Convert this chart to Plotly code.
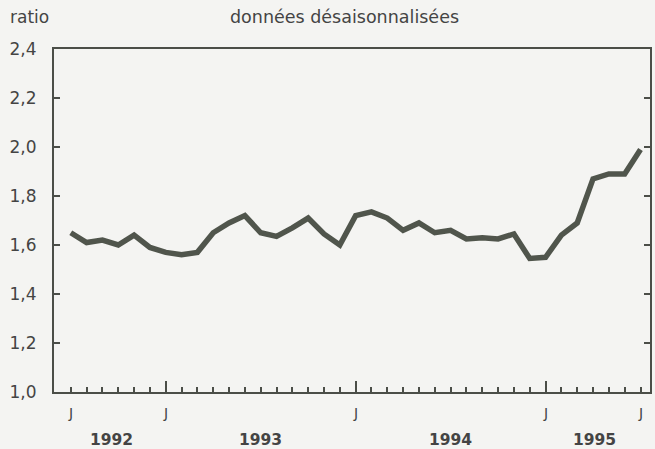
import plotly.graph_objects as go

months = ["1992-07", "1992-08", "1992-09", "1992-10", "1992-11", "1992-12",
          "1993-01", "1993-02", "1993-03", "1993-04", "1993-05", "1993-06",
          "1993-07", "1993-08", "1993-09", "1993-10", "1993-11", "1993-12",
          "1994-01", "1994-02", "1994-03", "1994-04", "1994-05", "1994-06",
          "1994-07", "1994-08", "1994-09", "1994-10", "1994-11", "1994-12",
          "1995-01", "1995-02", "1995-03", "1995-04", "1995-05", "1995-06",
          "1995-07"]
ratio = [1.65, 1.61, 1.62, 1.60, 1.64, 1.59,
         1.57, 1.56, 1.57, 1.65, 1.69, 1.72,
         1.65, 1.635, 1.67, 1.71, 1.645, 1.60,
         1.72, 1.735, 1.71, 1.66, 1.69, 1.65,
         1.66, 1.625, 1.63, 1.625, 1.645, 1.545,
         1.55, 1.64, 1.69, 1.87, 1.89, 1.89,
         1.99]
y_ticks = [1.0, 1.2, 1.4, 1.6, 1.8, 2.0, 2.2, 2.4]
y_ticktext = ["1,0", "1,2", "1,4", "1,6", "1,8", "2,0", "2,2", "2,4"]
j_labels = ["1992-07", "1993-01", "1994-01", "1995-01", "1995-07"]
years = ["1992", "1993", "1994", "1995"]
year_centers = [2.6, 12.0, 24.0, 33.1]  # month-index positions of year labels

idx = {m: i for i, m in enumerate(months)}
x = [idx[m] for m in months]
jan_ticks = [idx[m] for m in months if m.endswith("-01")]

INK = "#4b4e48"
TXT = "#444444"
BG = "#f4f4f2"
FONT = "DejaVu Sans"

fig = go.Figure()
fig.add_trace(go.Scatter(x=x, y=ratio, mode="lines",
                         line=dict(color="#50554c", width=5.5),
                         hoverinfo="skip", showlegend=False))

annotations = []
for m in j_labels:
    annotations.append(dict(x=idx[m], y=-0.062, xref="x", yref="paper",
                            text="J", showarrow=False, xanchor="center",
                            yanchor="middle",
                            font=dict(family=FONT, size=14, color=TXT)))
for yr, c in zip(years, year_centers):
    annotations.append(dict(x=c, y=-0.14, xref="x", yref="paper",
                            text="<b>" + yr + "</b>", showarrow=False,
                            xanchor="center", yanchor="middle",
                            font=dict(family=FONT, size=15.5, color=TXT)))
annotations.append(dict(x=-0.078, y=1.092, xref="paper", yref="paper",
                        text="ratio", showarrow=False, xanchor="left",
                        yanchor="middle",
                        font=dict(family=FONT, size=17, color=TXT)))
annotations.append(dict(x=0.487, y=1.092, xref="paper", yref="paper",
                        text="données désaisonnalisées", showarrow=False,
                        xanchor="center", yanchor="middle",
                        font=dict(family=FONT, size=17.5, color=TXT)))

fig.update_layout(
    width=655, height=449,
    margin=dict(l=54, r=3, t=49, b=57),
    paper_bgcolor=BG, plot_bgcolor=BG,
    font=dict(family=FONT, color=TXT),
    annotations=annotations,
    xaxis=dict(range=[-1.06, 36.6], showgrid=False, zeroline=False,
               showline=True, linecolor=INK, linewidth=2, mirror=True,
               tickmode="array", tickvals=jan_ticks, ticks="inside",
               ticklen=11, tickwidth=2, tickcolor=INK, showticklabels=False,
               minor=dict(tickmode="array", tickvals=x, ticks="inside",
                          ticklen=5, tickwidth=2, tickcolor=INK)),
    yaxis=dict(range=[1.0, 2.4], showgrid=False, zeroline=False,
               showline=True, linecolor=INK, linewidth=2, mirror="ticks",
               tickmode="array", tickvals=y_ticks, ticktext=y_ticktext,
               ticks="inside", ticklen=6, tickwidth=2, tickcolor=INK,
               ticklabelstandoff=12,
               tickfont=dict(family=FONT, size=17, color=TXT)),
)

fig.write_html("out.html",
               config={"displayModeBar": False, "staticPlot": True},
               post_script="document.body.style.margin='0';"
                           "document.body.style.background='" + BG + "';")
